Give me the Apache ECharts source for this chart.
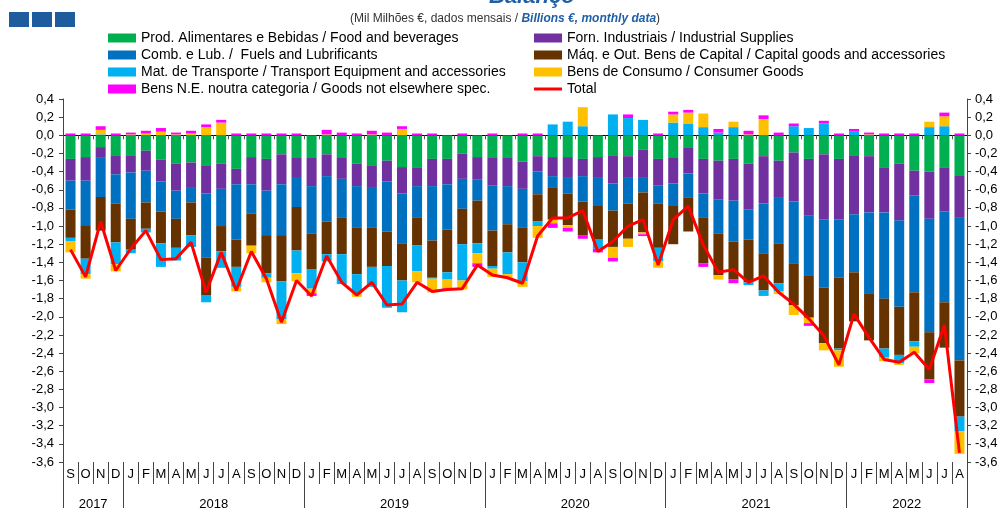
<!DOCTYPE html>
<html>
<head>
<meta charset="utf-8">
<script src="https://cdn.jsdelivr.net/npm/echarts@6/dist/echarts.min.js"></script>
<style>
  html, body { margin: 0; padding: 0; background: #fff; }
  #main { width: 1007px; height: 508px; }
</style>
</head>
<body>
<div id="main"></div>
<script>
// Sep 2017 .. Aug 2022
var months = [
  'S','O','N','D',
  'J','F','M','A','M','J','J','A','S','O','N','D',
  'J','F','M','A','M','J','J','A','S','O','N','D',
  'J','F','M','A','M','J','J','A','S','O','N','D',
  'J','F','M','A','M','J','J','A','S','O','N','D',
  'J','F','M','A','M','J','J','A'
];
var years = ['2017', '2018', '2019', '2020', '2021', '2022'];
var yearBounds = [0, 4, 16, 28, 40, 52, 60];   // month boundaries between years

var food = [
  -0.26,-0.24,-0.13,-0.22,
  -0.22,-0.17,-0.27,-0.31,-0.30,-0.33,-0.31,-0.37,-0.24,-0.26,-0.21,-0.25,
  -0.25,-0.21,-0.25,-0.31,-0.33,-0.28,-0.35,-0.36,-0.26,-0.26,-0.20,-0.24,
  -0.25,-0.25,-0.29,-0.23,-0.24,-0.24,-0.26,-0.24,-0.22,-0.23,-0.16,-0.26,
  -0.25,-0.14,-0.26,-0.28,-0.26,-0.31,-0.23,-0.28,-0.19,-0.26,-0.21,-0.26,
  -0.22,-0.23,-0.36,-0.31,-0.39,-0.40,-0.36,-0.44
];
var industrial = [
  -0.24,-0.26,-0.11,-0.21,
  -0.19,-0.22,-0.24,-0.30,-0.27,-0.31,-0.28,-0.17,-0.30,-0.35,-0.33,-0.22,
  -0.31,-0.24,-0.23,-0.25,-0.25,-0.23,-0.29,-0.20,-0.30,-0.28,-0.28,-0.25,
  -0.30,-0.31,-0.30,-0.17,-0.21,-0.22,-0.19,-0.22,-0.31,-0.23,-0.30,-0.29,
  -0.28,-0.28,-0.38,-0.43,-0.46,-0.51,-0.52,-0.41,-0.54,-0.62,-0.72,-0.67,
  -0.65,-0.62,-0.49,-0.63,-0.27,-0.52,-0.48,-0.47
];
var fuels = [
  -0.32,-0.49,-0.44,-0.32,
  -0.51,-0.35,-0.33,-0.31,-0.17,-0.71,-0.41,-0.61,-0.32,-0.49,-0.56,-0.32,
  -0.52,-0.50,-0.43,-0.46,-0.44,-0.55,-0.55,-0.35,-0.60,-0.50,-0.33,-0.23,
  -0.50,-0.42,-0.43,-0.25,-0.13,-0.18,-0.28,-0.31,-0.30,-0.29,-0.17,-0.20,
  -0.24,-0.27,-0.27,-0.37,-0.45,-0.33,-0.55,-0.50,-0.68,-0.67,-0.75,-0.64,
  -0.64,-0.89,-0.95,-0.95,-1.07,-1.25,-1.00,-1.57
];
var capital = [
  -0.31,-0.37,-0.37,-0.43,
  -0.34,-0.29,-0.35,-0.32,-0.36,-0.41,-0.28,-0.30,-0.35,-0.42,-0.51,-0.48,
  -0.40,-0.36,-0.40,-0.51,-0.43,-0.38,-0.41,-0.30,-0.41,-0.47,-0.39,-0.47,
  -0.39,-0.31,-0.38,-0.30,-0.35,-0.35,-0.37,-0.38,-0.40,-0.39,-0.44,-0.49,
  -0.43,-0.37,-0.50,-0.46,-0.42,-0.47,-0.41,-0.44,-0.46,-0.46,-0.61,-0.78,
  -0.54,-0.52,-0.55,-0.53,-0.54,-0.52,-0.50,-0.62
];
var transport = [
  -0.04,-0.17,0.01,-0.24,
  -0.04,-0.04,-0.26,-0.14,-0.13,-0.08,-0.18,-0.22,-0.01,-0.05,-0.42,-0.25,
  -0.21,-0.08,-0.33,-0.21,-0.22,-0.46,-0.35,-0.29,-0.01,-0.08,-0.40,-0.11,
  -0.03,-0.24,-0.21,-0.05,0.12,0.15,0.10,-0.10,0.23,0.19,0.17,-0.15,
  0.14,0.13,0.09,0.03,0.09,-0.03,-0.06,-0.09,0.10,0.08,0.13,-0.02,
  0.04,0.00,-0.10,-0.09,-0.06,0.09,0.10,-0.16
];
var consumer = [
  -0.12,-0.05,0.05,-0.08,
  0.01,0.02,0.04,0.01,0.02,0.09,0.14,-0.05,-0.08,-0.05,-0.05,-0.09,
  -0.05,0.01,0.00,-0.04,0.01,0.00,0.07,-0.12,-0.15,-0.09,-0.10,-0.11,
  -0.09,-0.04,-0.06,-0.13,-0.04,-0.03,0.21,0.00,-0.12,-0.09,-0.02,-0.07,
  0.09,0.12,0.15,-0.05,0.06,0.01,0.18,-0.03,-0.11,-0.06,-0.08,-0.18,
  0.00,0.01,-0.04,-0.02,-0.07,0.06,0.11,-0.25
];
var other = [
  0.02,0.02,0.04,0.02,
  0.02,0.03,0.04,0.02,0.03,0.03,0.03,0.02,0.02,0.02,0.02,0.02,
  -0.03,0.05,0.03,0.02,0.04,0.03,0.03,0.02,0.02,-0.01,0.02,-0.04,
  0.02,0.00,0.02,0.02,-0.05,-0.04,-0.04,-0.04,-0.04,0.04,-0.02,0.02,
  0.03,0.03,-0.04,0.04,-0.04,0.04,0.04,0.03,0.03,-0.03,0.03,0.02,
  0.03,0.02,0.02,0.02,0.02,-0.04,0.04,0.02
];
var total = [
  -1.26,-1.56,-0.95,-1.49,
  -1.25,-1.05,-1.37,-1.36,-1.18,-1.73,-1.29,-1.71,-1.28,-1.58,-2.06,-1.60,
  -1.77,-1.33,-1.62,-1.76,-1.62,-1.87,-1.86,-1.62,-1.72,-1.70,-1.69,-1.43,
  -1.54,-1.57,-1.63,-1.11,-0.91,-0.91,-0.83,-1.28,-1.17,-1.00,-0.93,-1.43,
  -0.93,-0.78,-1.21,-1.51,-1.48,-1.62,-1.55,-1.73,-1.86,-2.02,-2.21,-2.53,
  -1.97,-2.23,-2.47,-2.50,-2.39,-2.58,-2.09,-3.50
];

var names = {
  food: 'Prod. Alimentares e Bebidas / Food and beverages',
  ind: 'Forn. Industriais / Industrial Supplies',
  fuel: 'Comb. e Lub. /  Fuels and Lubrificants',
  cap: 'Máq. e Out. Bens de Capital / Capital goods and accessories',
  trans: 'Mat. de Transporte / Transport Equipment and accessories',
  cons: 'Bens de Consumo / Consumer Goods',
  nes: 'Bens N.E. noutra categoria / Goods not elsewhere spec.',
  total: 'Total'
};

var FONT = '"Liberation Sans", Arial, sans-serif';

// year axis: one point per month boundary, label at middle of each year
var yearAxisData = [];
for (var i = 0; i <= 60; i++) yearAxisData.push('');
for (var y = 0; y < years.length; y++) {
  yearAxisData[(yearBounds[y] + yearBounds[y + 1]) / 2] = years[y];
}

function fmt(v) { return v.toFixed(1).replace('.', ','); }

function bar(name, data, color) {
  return {
    name: name, type: 'bar', stack: 'bal', data: data,
    xAxisIndex: 0, yAxisIndex: 0,
    barWidth: 10,
    itemStyle: { color: color }
  };
}

var chart = echarts.init(document.getElementById('main'));
chart.setOption({
  animation: false,
  textStyle: { fontFamily: FONT },
  title: [{
    text: 'Balanço',
    left: 484, top: -19,
    textStyle: { fontFamily: FONT, fontSize: 22, fontWeight: 'bold', fontStyle: 'italic', color: '#1F5FA6' }
  }, {
    text: '{a|(Mil Milhões €, dados mensais / }{b|Billions €, monthly data}{a|)}',
    left: 345, top: 8,
    textStyle: {
      fontWeight: 'normal',
      rich: {
        a: { fontFamily: FONT, fontSize: 12, color: '#333', fontWeight: 'normal' },
        b: { fontFamily: FONT, fontSize: 12, color: '#1F5FA6', fontWeight: 'bold', fontStyle: 'italic' }
      }
    }
  }],
  graphic: [
    { type: 'rect', shape: { x: 9, y: 12, width: 20, height: 15 }, style: { fill: '#1F5C9E' } },
    { type: 'rect', shape: { x: 32, y: 12, width: 20, height: 15 }, style: { fill: '#1F5C9E' } },
    { type: 'rect', shape: { x: 55, y: 12, width: 20, height: 15 }, style: { fill: '#1F5C9E' } }
  ],
  legend: [{
    orient: 'vertical', left: 108, top: 31, padding: 0,
    itemWidth: 28, itemHeight: 9, itemGap: 3,
    textStyle: { fontFamily: FONT, fontSize: 14, color: '#000' },
    data: [
      { name: names.food, icon: 'rect' },
      { name: names.fuel, icon: 'rect' },
      { name: names.trans, icon: 'rect' },
      { name: names.nes, icon: 'rect' }
    ]
  }, {
    orient: 'vertical', left: 534, top: 31, padding: 0,
    itemWidth: 28, itemHeight: 9, itemGap: 3,
    textStyle: { fontFamily: FONT, fontSize: 14, color: '#000' },
    data: [
      { name: names.ind, icon: 'rect' },
      { name: names.cap, icon: 'rect' },
      { name: names.cons, icon: 'rect' },
      { name: names.total, icon: 'path://M0,0 L28,0 L28,3 L0,3 Z' }
    ]
  }],
  grid: { left: 63, right: 40, top: 99, bottom: 46, containLabel: false, outerBoundsMode: 'none' },
  xAxis: [{
    // months (bottom)
    type: 'category', data: months, position: 'bottom',
    axisLine: { show: false, onZero: false },
    axisTick: { show: true, interval: 0, length: 22, lineStyle: { color: '#444' } },
    axisLabel: { interval: 0, margin: 6, fontFamily: FONT, fontSize: 13, color: '#000' },
    splitLine: { show: false }
  }, {
    // years (bottom)
    type: 'category', data: yearAxisData, position: 'bottom', boundaryGap: false,
    axisLine: { show: false, onZero: false },
    axisTick: {
      show: true, length: 50, lineStyle: { color: '#444' },
      interval: function (idx) { return yearBounds.indexOf(idx) >= 0; }
    },
    axisLabel: { interval: 0, margin: 36, fontFamily: FONT, fontSize: 13, color: '#000' },
    splitLine: { show: false }
  }, {
    // zero line with small ticks
    type: 'category', data: months, position: 'bottom',
    axisLine: { show: true, onZero: true, lineStyle: { color: '#000', width: 1 } },
    axisTick: { show: true, interval: 0, length: 4, lineStyle: { color: '#555' } },
    axisLabel: { show: false },
    splitLine: { show: false }
  }],
  yAxis: [{
    type: 'value', position: 'left', min: -3.6, max: 0.4, interval: 0.2,
    axisLine: { show: true, onZero: false, lineStyle: { color: '#444' } },
    axisTick: { show: true, length: 4, lineStyle: { color: '#444' } },
    axisLabel: { formatter: fmt, margin: 9, fontFamily: FONT, fontSize: 13, color: '#000' },
    splitLine: { show: false }
  }, {
    type: 'value', position: 'right', min: -3.6, max: 0.4, interval: 0.2,
    axisLine: { show: true, onZero: false, lineStyle: { color: '#444' } },
    axisTick: { show: true, length: 4, lineStyle: { color: '#444' } },
    axisLabel: { formatter: fmt, margin: 8, fontFamily: FONT, fontSize: 13, color: '#000' },
    splitLine: { show: false }
  }],
  series: [
    bar(names.food, food, '#00B050'),
    bar(names.ind, industrial, '#7030A0'),
    bar(names.fuel, fuels, '#0070C0'),
    bar(names.cap, capital, '#663300'),
    bar(names.trans, transport, '#00B0F0'),
    bar(names.cons, consumer, '#FFC000'),
    bar(names.nes, other, '#FF00FF'),
    {
      name: names.total, type: 'line', data: total,
      xAxisIndex: 0, yAxisIndex: 0,
      symbol: 'none', z: 5,
      lineStyle: { color: '#FF0000', width: 3 },
      itemStyle: { color: '#FF0000' }
    }
  ]
});
</script>
</body>
</html>
